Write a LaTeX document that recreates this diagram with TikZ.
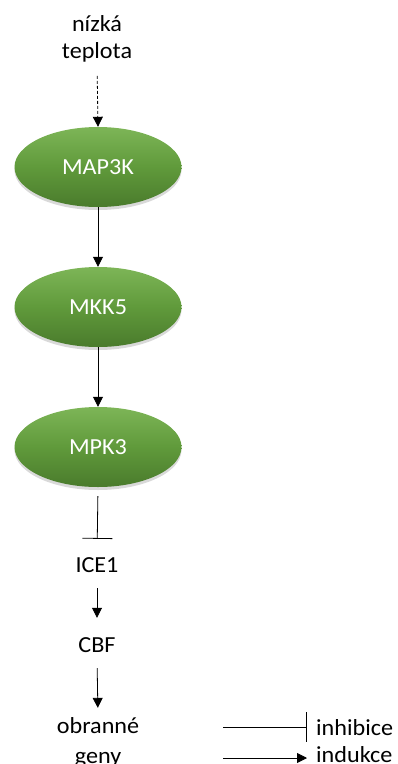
\documentclass[tikz,border=0pt]{standalone}
\usepackage{fontspec}
\setmainfont{Carlito}[FakeStretch=1.05]
\usetikzlibrary{arrows.meta,shapes.geometric,shadows}
\definecolor{gtop}{HTML}{7DB557}
\definecolor{gmid}{HTML}{609A3B}
\definecolor{gbot}{HTML}{4A7B2C}
\begin{document}
\begin{tikzpicture}[x=1pt,y=-1pt,
 kinase/.style={ellipse, minimum width=167pt, minimum height=80pt, inner sep=0pt,
   top color=gtop, bottom color=gbot, middle color=gmid, draw=none, text=white,
   font=\fontsize{23}{27}\selectfont,
   drop shadow={opacity=0.3, shadow xshift=0pt, shadow yshift=-3pt}},
 lbl/.style={anchor=base, inner sep=0pt, text height=15pt, text depth=5pt,
   font=\fontsize{23}{27}\selectfont},
 mlbl/.style={anchor=base, inner sep=0pt, align=center,
   font=\fontsize{23}{27}\selectfont},
 act/.style={-{Triangle[width=10pt,length=10pt]}, line width=0.8pt},
 inh/.style={-{Bar[width=30pt,line width=0.8pt]}, line width=0.8pt},
]
\useasboundingbox (0,0) rectangle (398,764);

\node[mlbl] (temp) at (97,58) {nízká\\teplota};
\node[kinase] (map3k) at (98,167) {MAP3K};
\node[kinase] (mkk5) at (98,307) {MKK5};
\node[kinase] (mpk3) at (98,447) {MPK3};
\node[lbl] (ice1) at (97,572) {ICE1};
\node[lbl] (cbf) at (97,652) {CBF};
\node[mlbl, font=\fontsize{23}{30}\selectfont] (genes) at (98,763) {obranné\\geny};

\draw[act, dashed, dash pattern=on 3pt off 2pt, shorten <=14pt] (temp.south) -- (map3k.north);
\draw[act] (map3k.south) -- (mkk5.north);
\draw[act] (mkk5.south) -- (mpk3.north);
\draw[inh, shorten <=9pt, shorten >=18pt] (mpk3.south) -- (ice1.north);
\draw[act, shorten <=11pt, shorten >=19pt] (ice1.south) -- (cbf.north);
\draw[act, shorten <=11pt, shorten >=9pt] (cbf.south) -- (genes.north);

% legend
\node[lbl, anchor=base west] (linh) at (316,735) {inhibice};
\node[lbl, anchor=base west, text depth=0pt] (lind) at (316,762) {indukce};
\coordinate (inhS) at (223,727);
\coordinate (inhE) at (307,727);
\coordinate (indS) at (223,758);
\coordinate (indE) at (307,758);
\draw[inh] (inhS) -- (inhE);
\draw[act] (indS) -- (indE);
\end{tikzpicture}
\end{document}
